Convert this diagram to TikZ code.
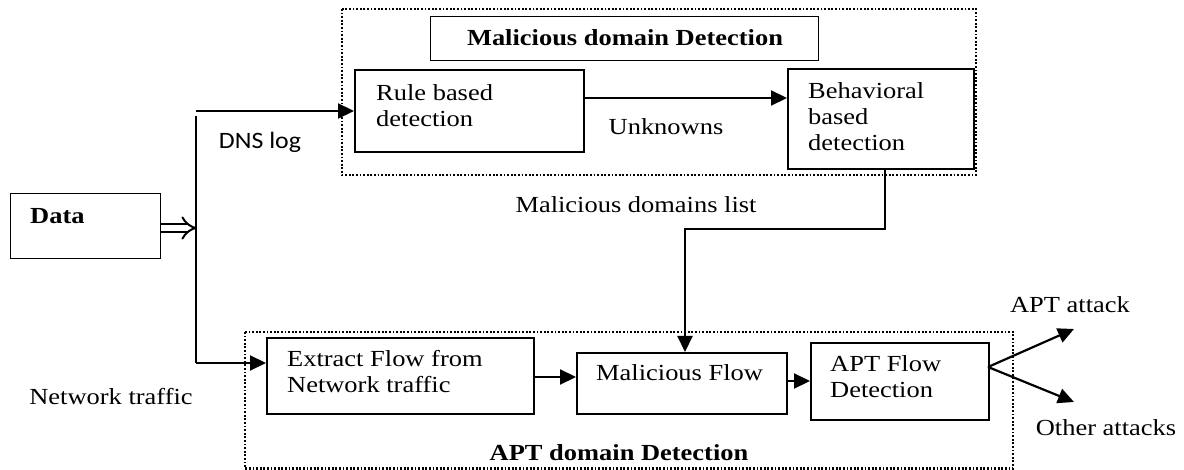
\documentclass[tikz,border=0pt]{standalone}
\usepackage{fontspec}
\setmainfont{Liberation Serif}[FakeStretch=1.15]
\newfontfamily\dnsfont{Carlito}[FakeStretch=1.1]
\usetikzlibrary{arrows.meta}
\begin{document}
\begin{tikzpicture}[x=1pt,y=-1pt,
  box/.style={draw, line width=2.2pt, rectangle, inner sep=0pt, anchor=north west},
  thinbox/.style={draw, line width=1.3pt, rectangle, inner sep=0pt, anchor=north west},
  group/.style={draw, line width=2.8pt, dash pattern=on 1.8pt off 1.8pt},
  txt/.style={inner sep=0pt, font=\fontsize{23}{26}\selectfont, align=left},
  btxt/.style={inner sep=0pt, font=\fontsize{23}{26}\selectfont\bfseries},
  conn/.style={line width=2.2pt},
  arr/.style={line width=2.2pt, -{Triangle[length=16pt,width=15pt]}}]
\useasboundingbox (0,0) rectangle (1184,470);
% group frames
\draw[group] (342,9) rectangle (976,175);
\draw[group] (245,332) rectangle (1013,468.5);
% boxes
\node[thinbox, minimum width=388pt, minimum height=44pt] (title) at (430,16) {};
\node[btxt] (titletxt) at (625,38) {Malicious domain Detection};
\node[box, minimum width=229pt, minimum height=82pt] (rule) at (354,69) {};
\node[txt, anchor=west] (ruletxt) at (376,106) {Rule based\\detection};
\node[box, minimum width=186pt, minimum height=100pt] (beh) at (787,68) {};
\node[txt, anchor=west] (behtxt) at (808,117) {Behavioral\\based\\detection};
\node[thinbox, minimum width=150pt, minimum height=65pt] (data) at (10,193) {};
\node[btxt, anchor=west] (datatxt) at (30,216) {Data};
\node[box, minimum width=267pt, minimum height=76pt] (extract) at (266,337) {};
\node[txt, anchor=west] (extracttxt) at (287,372) {Extract Flow from\\Network traffic};
\node[box, minimum width=210pt, minimum height=61pt] (mal) at (576,352) {};
\node[txt, anchor=west] (maltxt) at (596,373) {Malicious Flow};
\node[box, minimum width=178pt, minimum height=77pt] (apt) at (810,342) {};
\node[txt, anchor=west] (apttxt) at (830,377) {APT Flow\\Detection};
% labels
\node[inner sep=0pt, font=\dnsfont\fontsize{23.5}{26}\selectfont] (dns) at (260,142) {DNS log};
\node[txt] (net) at (111,397) {Network traffic};
\node[txt] (unk) at (666,127) {Unknowns};
\node[txt] (mdl) at (636,205) {Malicious domains list};
\node[txt] (aptatt) at (1070,305) {APT attack};
\node[txt] (other) at (1106,428) {Other attacks};
\node[btxt] (aptdom) at (619,453) {APT domain Detection};
% coordinates
\coordinate (bus) at (197,228);
\coordinate (top) at (196,111);
\coordinate (topv) at (196,116);
\coordinate (bot) at (196,363);
\coordinate (c1) at (885,229);
\coordinate (c2) at (685,229);
\coordinate (fork) at (988,367);
\coordinate (outa) at (1074,329);
\coordinate (outb) at (1074,402);
% connectors
\draw[conn] (topv) -- (bot);
\draw[line width=2pt, double, double distance=6pt, -{Implies}] (data.east |- bus) -- (bus);
\draw[arr] (top) -- (top -| rule.west);
\draw[arr] (bot) -- (bot -| extract.west);
\draw[arr] (rule.east |- 0,98) -- (beh.west |- 0,98);
\draw[arr] (c1 |- beh.south) -- (c1) -- (c2) -- (c2 |- mal.north);
\draw[arr] (extract.east |- 0,377) -- (mal.west |- 0,377);
\draw[arr] (mal.east |- 0,381) -- (apt.west |- 0,381);
\draw[arr] (fork) -- (outa);
\draw[arr] (fork) -- (outb);
\end{tikzpicture}
\end{document}
